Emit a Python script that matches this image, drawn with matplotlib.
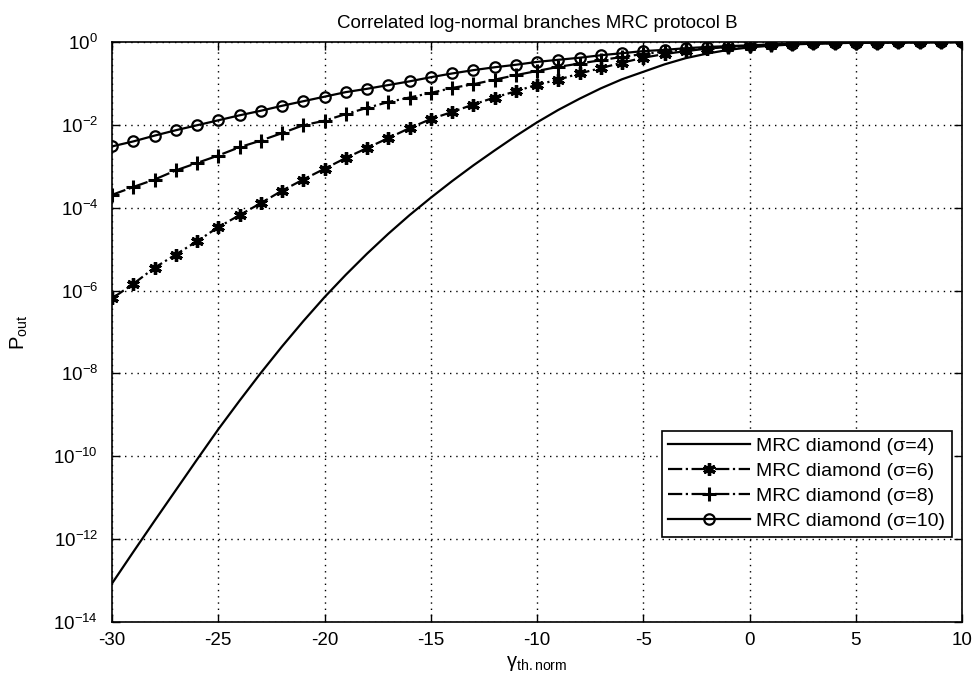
#!/usr/bin/env python3
# outage probability vs normalised threshold, MRC protocol B
# values (log10 of P_out)

import numpy as np
import matplotlib
matplotlib.use("Agg")
import matplotlib.pyplot as plt
from matplotlib.ticker import FixedLocator, LogFormatterSciNotation

plt.rcParams['font.family'] = ['Liberation Sans', 'DejaVu Sans']
plt.rcParams['mathtext.fontset'] = 'custom'
plt.rcParams['mathtext.rm'] = 'Liberation Sans'
plt.rcParams['mathtext.it'] = 'Liberation Sans:italic'
plt.rcParams['axes.unicode_minus'] = False

gamma_th = list(range(-30, 11))

log_sigma4 = [-13.07, -12.31, -11.56, -10.82, -10.08, -9.35, -8.66, -7.99,
              -7.35, -6.74, -6.16, -5.62, -5.11, -4.63, -4.18, -3.76,
              -3.36, -2.98, -2.62, -2.27, -1.94, -1.64, -1.37, -1.12,
              -0.90, -0.72, -0.54, -0.39, -0.28, -0.19, -0.13, -0.09,
              -0.06, -0.04, -0.025, -0.015, -0.01, -0.006, -0.004, -0.002,
              -0.001]
log_sigma6 = [-6.19, -5.84, -5.45, -5.13, -4.81, -4.47, -4.18, -3.89,
              -3.59, -3.32, -3.06, -2.80, -2.56, -2.32, -2.08, -1.86,
              -1.69, -1.51, -1.34, -1.19, -1.03, -0.91, -0.76, -0.63,
              -0.50, -0.38, -0.29, -0.22, -0.16, -0.12, -0.10, -0.07,
              -0.05, -0.035, -0.025, -0.02, -0.015, -0.01, -0.008, -0.005,
              -0.003]
log_sigma8 = [-3.69, -3.50, -3.32, -3.10, -2.92, -2.74, -2.54, -2.38,
              -2.20, -2.01, -1.90, -1.74, -1.59, -1.45, -1.34, -1.23,
              -1.11, -1.02, -0.91, -0.80, -0.70, -0.60, -0.52, -0.44,
              -0.36, -0.29, -0.23, -0.18, -0.14, -0.11, -0.09, -0.065,
              -0.05, -0.035, -0.025, -0.02, -0.015, -0.01, -0.008, -0.005,
              -0.003]
log_sigma10 = [-2.52, -2.40, -2.26, -2.13, -2.01, -1.89, -1.77, -1.66,
               -1.54, -1.43, -1.32, -1.21, -1.13, -1.04, -0.95, -0.85,
               -0.76, -0.68, -0.61, -0.55, -0.48, -0.43, -0.38, -0.32,
               -0.27, -0.22, -0.19, -0.15, -0.12, -0.10, -0.08, -0.06,
               -0.045, -0.035, -0.025, -0.02, -0.015, -0.01, -0.008, -0.005,
               -0.003]

labels = ['MRC diamond (\u03c3=4)', 'MRC diamond (\u03c3=6)',
          'MRC diamond (\u03c3=8)', 'MRC diamond (\u03c3=10)']

fig = plt.figure(figsize=(9.78, 6.81), dpi=100)
ax = fig.add_axes([112/978, 1-622/681, 850/978, 580/681])

lw = 1.6
ax.semilogy(gamma_th, 10**np.array(log_sigma4), '-', color='k', lw=lw,
            label=labels[0])
ax.semilogy(gamma_th, 10**np.array(log_sigma6), '-.', color='k', lw=lw,
            marker=(6, 2, 0), ms=9, mew=2.4, label=labels[1])
ax.semilogy(gamma_th, 10**np.array(log_sigma8), '-.', color='k', lw=lw,
            marker='+', ms=10, mew=2.2, label=labels[2])
ax.semilogy(gamma_th, 10**np.array(log_sigma10), '-', color='k', lw=lw,
            marker='o', ms=7.5, mew=1.6, mfc='none', label=labels[3])

ax.set_xlim(-30, 10)
ax.set_ylim(1e-14, 1)
ax.xaxis.set_major_locator(FixedLocator(range(-30, 11, 5)))
ax.yaxis.set_major_locator(FixedLocator([10.0**k for k in range(-14, 1, 2)]))
ax.yaxis.set_major_formatter(LogFormatterSciNotation())
ax.yaxis.set_minor_locator(FixedLocator([]))

ax.tick_params(direction='in', top=True, right=True, length=6, width=1,
               labelsize=13.5)
ax.tick_params(axis='x', pad=7)
ax.tick_params(axis='y', pad=10)
ax.grid(True, color='k', lw=1, ls=(0, (1, 3.5)))
for s in ax.spines.values():
    s.set_linewidth(1.2)

ax.set_title('Correlated log-normal branches MRC protocol B', fontsize=13.5,
             pad=10)
ax.set_xlabel('$\\mathregular{\\gamma_{th.norm}}$', fontsize=14.5, labelpad=4)
ax.set_ylabel('$\\mathregular{P_{out}}$', fontsize=14.5, labelpad=17)

leg = ax.legend(loc='lower right', bbox_to_anchor=(0.988, 0.147),
                fontsize=14, handlelength=4.2, borderaxespad=0,
                fancybox=False, edgecolor='k', framealpha=1,
                labelspacing=0.38, borderpad=0.35, handletextpad=0.3)
leg.get_frame().set_linewidth(1.2)

fig.savefig('out.png', dpi=100)
